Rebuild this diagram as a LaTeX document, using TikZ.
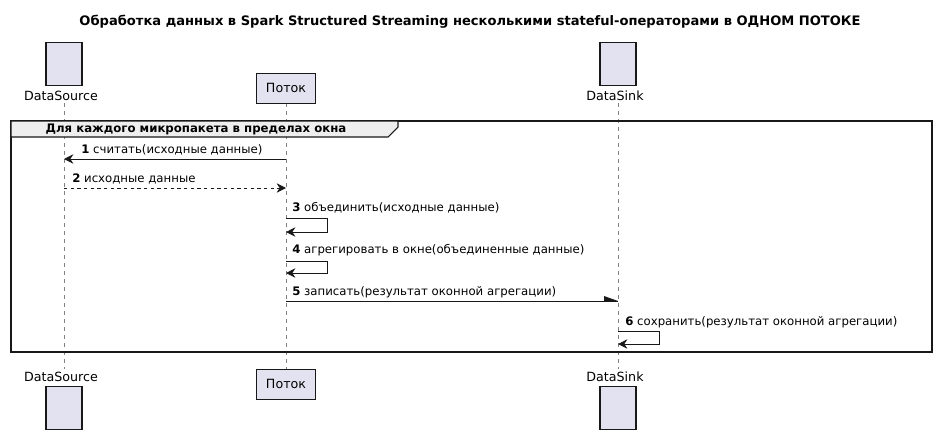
\documentclass[tikz,border=0pt]{standalone}
\usepackage{fontspec}
\setmainfont{DejaVu Sans}
\usetikzlibrary{shapes.geometric,arrows.meta}
\definecolor{pfill}{HTML}{E2E2F0}
\definecolor{pline}{HTML}{181818}
\definecolor{gfill}{HTML}{EEEEEE}
\begin{document}
\begin{tikzpicture}[x=0.75pt,y=-0.75pt,
  db/.style={cylinder,shape border rotate=90,aspect=0.22,minimum width=27pt,minimum height=32pt,draw=pline,fill=pfill,line width=0.8pt,inner sep=0pt},
  pbox/.style={draw=pline,fill=pfill,line width=0.6pt,minimum width=44pt,minimum height=22.5pt,inner sep=0pt,font=\fontsize{9.5}{11}\selectfont},
  plabel/.style={font=\fontsize{9.5}{11}\selectfont,inner sep=0pt},
  life/.style={draw=gray,dashed,line width=0.5pt,dash pattern=on 3pt off 3pt},
  msg/.style={draw=pline,line width=0.7pt,-{Stealth[length=7pt,width=7pt]}},
  mlabel/.style={font=\fontsize{8.8}{10}\selectfont,inner sep=0pt,anchor=west}]
\useasboundingbox (0,0) rectangle (937,446);
\node[font=\bfseries\fontsize{9.8}{12}\selectfont] (title) at (470,22) {Обработка данных в Spark Structured Streaming несколькими stateful-операторами в ОДНОМ ПОТОКЕ};
% lifelines
\coordinate (ds1) at (64,103); \coordinate (ds2) at (64,369);
\coordinate (p1) at (286,103); \coordinate (p2) at (286,369);
\coordinate (sk1) at (618,103); \coordinate (sk2) at (618,369);
\draw[life] (ds1) -- (ds2);
\draw[life] (p1) -- (p2);
\draw[life] (sk1) -- (sk2);
% participants
\node[db] (dsT) at (64,64) {};
\node[plabel] (dsTl) at (61,96) {DataSource};
\node[pbox] (pT) at (286,88) {Поток};
\node[db] (skT) at (618,64) {};
\node[plabel] (skTl) at (615,96) {DataSink};
\node[plabel] (dsBl) at (61,377) {DataSource};
\node[db] (dsB) at (64,408) {};
\node[pbox] (pB) at (286,384) {Поток};
\node[plabel] (skBl) at (615,377) {DataSink};
\node[db] (skB) at (618,408) {};
% group
\draw[pline,line width=1.2pt] (11,121) rectangle (932,352);
\draw[pline,line width=0.8pt,fill=gfill] (11,121) -- (398,121) -- (398,127) -- (388,137) -- (11,137) -- cycle;
\node[font=\bfseries\fontsize{8.8}{10}\selectfont,inner sep=0pt] (glabel) at (196,129.5) {Для каждого микропакета в пределах окна};
% messages
\coordinate (m1a) at (286,159); \coordinate (m1b) at (64,159);
\draw[msg] (m1a) -- (m1b);
\node[mlabel] (l1) at (81,150) {\textbf{1} считать(исходные данные)};
\coordinate (m2a) at (64,188); \coordinate (m2b) at (286,188);
\draw[msg,dashed,dash pattern=on 2.5pt off 2.5pt] (m2a) -- (m2b);
\node[mlabel] (l2) at (72,179) {\textbf{2} исходные данные};
\coordinate (m3a) at (286,218); \coordinate (m3b) at (286,232);
\draw[msg] (m3a) -- (327,218) -- (327,232) -- (m3b);
\node[mlabel] (l3) at (292,208) {\textbf{3} объединить(исходные данные)};
\coordinate (m4a) at (286,261); \coordinate (m4b) at (286,273);
\draw[msg] (m4a) -- (327,261) -- (327,273) -- (m4b);
\node[mlabel] (l4) at (292,250) {\textbf{4} агрегировать в окне(объединенные данные)};
\coordinate (m5a) at (286,301); \coordinate (m5b) at (618,301);
\draw[pline,line width=0.7pt] (m5a) -- (m5b);
\fill[pline] (m5b) -- (604,296) -- (604,301) -- cycle;
\node[mlabel] (l5) at (292,292) {\textbf{5} записать(результат оконной агрегации)};
\coordinate (m6a) at (618,331); \coordinate (m6b) at (618,344);
\draw[msg] (m6a) -- (659,331) -- (659,344) -- (m6b);
\node[mlabel] (l6) at (625,322) {\textbf{6} сохранить(результат оконной агрегации)};
\end{tikzpicture}
\end{document}
